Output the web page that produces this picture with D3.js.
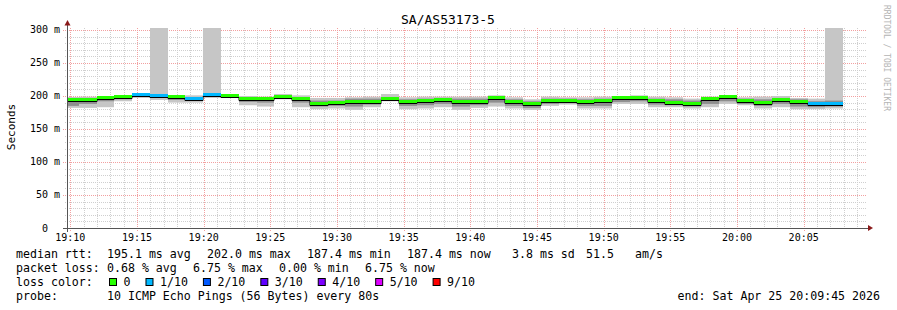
<!DOCTYPE html>
<html><head><meta charset="utf-8">
<script src="https://cdn.jsdelivr.net/npm/d3@7"></script>
<style>
body{margin:0;background:#fff}
svg{display:block}
text{font-family:"DejaVu Sans Mono",monospace;white-space:pre}
</style>
</head><body>
<svg id="c" width="897" height="310"></svg>
<script>
// ---------------- data ----------------
const title = "SA/AS53173-5";
const yAxisTitle = "Seconds";
const credit = "RRDTOOL / TOBI OETIKER";
const stepSeconds = 80;                 // one probe round
const firstStep = [19, 9, 18];          // start of first (partly hidden) round
const viewStart = [19, 9, 45];
const viewEnd = [20, 9, 45];
// median RTT per round (ms)
const median = [193.5,194,196.5,199,201,200,198.5,195.5,202,200,195.5,195.5,199,195.5,188.5,189.5,191.5,191.5,195.5,191.5,193,194.5,191.5,191.5,197,191,187.5,192.5,192.5,191.5,192,197.5,197,192.5,190,188.5,196,199,192.5,189.5,194,191,187.4,187.4];
// lost pings out of 10 per round
const lossTenths = [0,0,0,0,1,1,0,1,1,0,0,0,0,0,0,0,0,0,0,0,0,0,0,0,0,0,0,0,0,0,0,0,0,0,0,0,0,0,0,0,0,0,1,1];
// smoke: slowest / fastest ping and inner spread (ms)
const pingMin = [182,182,183,192,197,194,190,190,197,198,186,184,195,183,180,181,179,183,192,180,181,183,179,182,184,181,179,185,187,181,181,188,188,183,183,181,183,188,186,181,183,180,180,181];
const pingMax = [198.5,199,200,201,203,340,200,201,340,201,200,199,203,201,197,197,198,199,203,198,199,199,199,199,201,198,195,199,198,198,199,200,201,199,198,196,199,201,198,199,200,197,196,340];
const innerLo = [185,188,192,195,199,197,194,193,199,199,191,190,197,190,184,185,184,187,194,185,186,188,184,186,190,185,182,188,189,185,185,191,192,187,186,184,188,192,188,185,188,184,183,184];
const innerHi = [196,197,198,200,202,203,199,197,203,200.5,198,197,201,198,193,193,196,196,198,195,196,197,196,196,199,195,192,196,196,195,196,199,199,196,195,193,198,200,196,195,197,195,192,193];
const yTicks = [0,50,100,150,200,250,300];
const yTickLabels = ["0  ","50 m","100 m","150 m","200 m","250 m","300 m"];
const xTickLabels = ["19:10","19:15","19:20","19:25","19:30","19:35","19:40","19:45","19:50","19:55","20:00","20:05"];
const legendRtt = ["median rtt:","195.1 ms avg","202.0 ms max","187.4 ms min","187.4 ms now","3.8 ms sd","51.5","am/s"];
const legendLossText = ["packet loss:","0.68 % avg","6.75 % max","0.00 % min","6.75 % now"];
const lossLabels = ["0","1/10","2/10","3/10","4/10","5/10","9/10"];
const lossColors = ["#26ff00","#00b8ff","#0059ff","#5e00ff","#7e00ff","#dd00ff","#ff0000"];
const probeText = ["probe:","10 ICMP Echo Pings (56 Bytes) every 80s"];
const endText = "end: Sat Apr 25 20:09:45 2026";

// ---------------- drawing ----------------
const svg = d3.select("#c");
const L = 67, R = 867, T = 28, B = 228;
const day = (h,m,s) => new Date(2026,3,25,h,m,s);
const x = d3.scaleTime().domain([day(...viewStart), day(...viewEnd)]).range([L, R]);
const y = d3.scaleLinear().domain([0, 303]).range([B, T]);
const t0 = day(...firstStep);
const stepT = k => new Date(t0.getTime() + k*stepSeconds*1000);

svg.append("rect").attr("width",897).attr("height",310).attr("fill","#fff");
svg.append("defs").append("clipPath").attr("id","pc")
  .append("rect").attr("x",L).attr("y",T).attr("width",R-L).attr("height",B-T);

// grid
const g = svg.append("g");
const minorY = d3.range(10, 301, 10).filter(v => v % 50 !== 0);
g.selectAll(".mh").data(minorY).join("line")
  .attr("x1",L-2).attr("x2",R).attr("y1",d=>Math.round(y(d))+0.5).attr("y2",d=>Math.round(y(d))+0.5)
  .attr("stroke","#cfcfcf").attr("stroke-dasharray","1,1");
const minutes = d3.timeMinute.range(day(19,10,0), day(20,9,46));
g.selectAll(".mv").data(minutes.filter(d=>d.getMinutes()%5!==0)).join("line")
  .attr("x1",d=>Math.round(x(d))+0.5).attr("x2",d=>Math.round(x(d))+0.5).attr("y1",T).attr("y2",B+2)
  .attr("stroke","#cfcfcf").attr("stroke-dasharray","1,1");
g.selectAll(".MH").data(yTicks.filter(d=>d>0)).join("line")
  .attr("x1",L-4).attr("x2",R).attr("y1",d=>Math.round(y(d))+0.5).attr("y2",d=>Math.round(y(d))+0.5)
  .attr("stroke","#f2a0a0").attr("stroke-dasharray","1,1");
const majors = minutes.filter(d=>d.getMinutes()%5===0);
g.selectAll(".MV").data(majors).join("line")
  .attr("x1",d=>Math.round(x(d))+0.5).attr("x2",d=>Math.round(x(d))+0.5).attr("y1",T).attr("y2",B+4)
  .attr("stroke","#f2a0a0").attr("stroke-dasharray","1,1");

// smoke and median
const steps = median.map((m,k)=>({k, m, loss: lossTenths[k], lo: pingMin[k], hi: pingMax[k], ilo: innerLo[k], ihi: innerHi[k]}));
const p = svg.append("g").attr("clip-path","url(#pc)");
const sx0 = d => Math.round(x(stepT(d.k))), sx1 = d => Math.round(x(stepT(d.k+1)));
p.selectAll(".so").data(steps).join("rect")
  .attr("x",sx0).attr("width",d=>sx1(d)-sx0(d))
  .attr("y",d=>y(d.hi)).attr("height",d=>y(d.lo)-y(d.hi)).attr("fill","#c6c6c6");
p.selectAll(".si").data(steps).join("rect")
  .attr("x",sx0).attr("width",d=>sx1(d)-sx0(d))
  .attr("y",d=>y(d.ihi)).attr("height",d=>y(d.ilo)-y(d.ihi)).attr("fill","#8e8e8e");
const linePts = steps.map(d=>[x(stepT(d.k)), d.m]);
linePts.push([x(stepT(steps.length)), median[median.length-1]]);
p.append("path").attr("d", d3.line().x(d=>Math.round(d[0])).y(d=>Math.round(y(d[1]))+1.5).curve(d3.curveStepAfter)(linePts))
  .attr("fill","none").attr("stroke","#000").attr("stroke-width",1);
p.selectAll(".md").data(steps).join("rect")
  .attr("x",sx0).attr("width",d=>sx1(d)-sx0(d))
  .attr("y",d=>Math.round(y(d.m))-2).attr("height",3).attr("fill",d=>lossColors[d.loss]);

// axes
svg.append("line").attr("x1",L+0.5).attr("x2",L+0.5).attr("y1",B+4).attr("y2",24).attr("stroke","#555");
svg.append("line").attr("x1",L-4).attr("x2",869).attr("y1",B+0.5).attr("y2",B+0.5).attr("stroke","#555");
svg.append("path").attr("d",`M${L-2.5},25.5L${L+3.5},25.5L${L+0.5},20Z`).attr("fill","#8b1a1a");
svg.append("path").attr("d",`M868,225L868,231L873,228Z`).attr("fill","#8b1a1a");

// tick labels
svg.selectAll(".yl").data(yTicks).join("text")
  .attr("x",60).attr("y",d=>y(d)+3.5).attr("text-anchor","end")
  .attr("font-size",10).attr("fill","#000").text((d,i)=>yTickLabels[i]);
svg.selectAll(".xl").data(majors).join("text")
  .attr("x",d=>x(d)).attr("y",241).attr("text-anchor","middle")
  .attr("font-size",10).attr("fill","#000").text((d,i)=>xTickLabels[i]);

// titles
svg.append("text").attr("x",448).attr("y",24).attr("text-anchor","middle").attr("font-size",13).text(title);
svg.append("text").attr("transform","translate(15,127) rotate(-90)").attr("text-anchor","middle").attr("font-size",11).text(yAxisTitle);
svg.append("text").attr("transform","translate(884,5) rotate(90)").attr("font-size",8).attr("fill","#b4b4b4").text(credit);

// legend
const fs = 11.6;
const rttX = [16,107,207,307,407,512,586,635];
legendRtt.forEach((t,i)=>svg.append("text").attr("x",rttX[i]).attr("y",258).attr("font-size",fs).text(t));
const lossX = [16,107,193,279,365];
legendLossText.forEach((t,i)=>svg.append("text").attr("x",lossX[i]).attr("y",272).attr("font-size",fs).text(t));
svg.append("text").attr("x",16).attr("y",286).attr("font-size",fs).text("loss color:");
let bx = 109;
lossLabels.forEach((t,i)=>{
  svg.append("rect").attr("x",bx+0.5).attr("y",278.5).attr("width",7).attr("height",7)
    .attr("fill",lossColors[i]).attr("stroke","#000");
  const tx = svg.append("text").attr("x",bx+14.5).attr("y",286).attr("font-size",fs).text(t);
  bx = bx + 14.5 + tx.node().getComputedTextLength() + 15;
});
svg.append("text").attr("x",16).attr("y",300).attr("font-size",fs).text(probeText[0]);
svg.append("text").attr("x",107).attr("y",300).attr("font-size",fs).text(probeText[1]);
svg.append("text").attr("x",880).attr("y",300).attr("text-anchor","end").attr("font-size",fs).text(endText);
</script>
</body></html>
